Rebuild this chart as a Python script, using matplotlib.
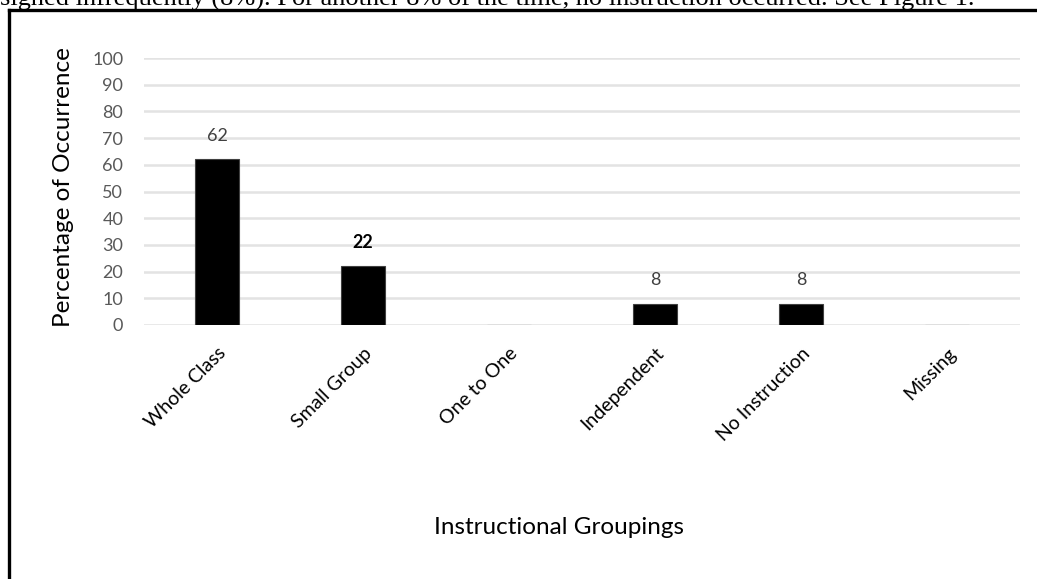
import matplotlib
matplotlib.use('Agg')
from matplotlib import pyplot as plt
from matplotlib.lines import Line2D

# Data
categories = ['Whole Class', 'Small Group', 'One to One', 'Independent', 'No Instruction', 'Missing']
percentages = [62, 22, 0, 8, 8, 0]
bar_labels = ['62', '22', '', '8', '8', '']
yticks = [0, 10, 20, 30, 40, 50, 60, 70, 80, 90, 100]

FONT = 'Lato'

fig = plt.figure(figsize=(10.37, 5.79), dpi=100)
ax = fig.add_axes([0.139, 0.4387, 0.8447, 0.4611])

x = list(range(len(categories)))
ax.bar(x, percentages, width=0.3, color='black', edgecolor='#404040', linewidth=0.8, zorder=3)

# value labels above bars
for xi, v, lab in zip(x, percentages, bar_labels):
    if lab == '':
        continue
    color = 'black' if lab == '22' else '#404040'
    weight = 'bold' if lab == '22' else 'normal'
    ax.annotate(lab, (xi, v), textcoords='offset points', xytext=(0, 17),
                ha='center', va='center', fontsize=13, color=color,
                fontweight=weight, family=FONT)

ax.set_xlim(-0.5, len(categories) - 0.5)
ax.set_ylim(0, 100)
ax.set_yticks(yticks)
ax.set_yticklabels([str(t) for t in yticks], fontsize=13, color='#595959', family=FONT)
ax.set_xticks(x)
ax.set_xticklabels(categories, rotation=45, ha='right', rotation_mode='anchor',
                   fontsize=14, color='black', family=FONT)
ax.tick_params(axis='both', length=0)
ax.tick_params(axis='y', pad=15)
ax.tick_params(axis='x', pad=14)

for s in ax.spines.values():
    s.set_visible(False)
ax.grid(axis='y', color='#e3e3e3', linewidth=1.8, zorder=0)
ax.set_axisbelow(True)

ax.set_ylabel('Percentage of Occurrence', fontsize=17.5, family=FONT, color='black')
ax.yaxis.set_label_coords(-0.08, 0.517)
fig.text(559 / 1037, 1 - 528 / 579, 'Instructional Groupings', ha='center', va='center',
         fontsize=17.5, family=FONT, color='black')

# surrounding document frame and cut-off text line above it
fig.add_artist(Line2D([9 / 1037, 9 / 1037], [0, 1 - 10 / 579], transform=fig.transFigure,
                      color='black', linewidth=2.4, solid_capstyle='projecting'))
fig.add_artist(Line2D([9 / 1037, 1], [1 - 10 / 579, 1 - 10 / 579], transform=fig.transFigure,
                      color='black', linewidth=2.4, solid_capstyle='projecting'))
fig.text(0, 1 - 6 / 579,
         'signed infrequently (8%). For another 8% of the time, no instruction occurred. See Figure 1.',
         ha='left', va='baseline', fontsize=19, family='Liberation Serif', color='black')

fig.savefig('out.png', dpi=100)
